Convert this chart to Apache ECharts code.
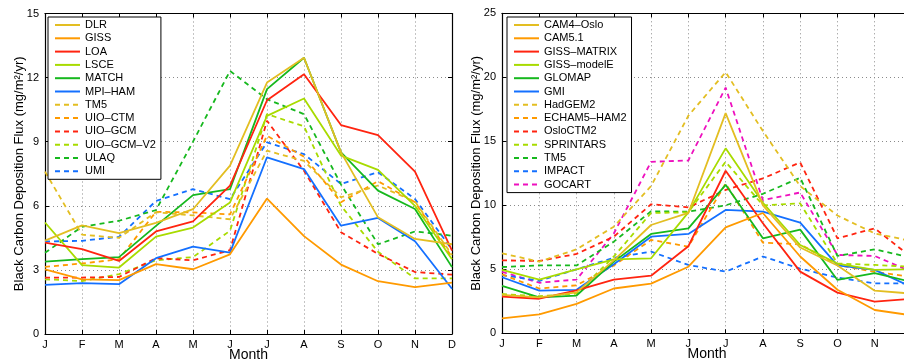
<!DOCTYPE html>
<html>
<head>
<meta charset="utf-8">
<script src="https://cdn.jsdelivr.net/npm/echarts@6/dist/echarts.min.js"></script>
<style>
html,body{margin:0;padding:0;background:#fff;}
#chart{width:904px;height:361px;}
</style>
</head>
<body>
<div id="chart"></div>
<script>
// ---------- data ----------
const categories = ['Jan','Feb','Mar','Apr','May','Jun','Jul','Aug','Sep','Oct','Nov','Dec'];
const tickLabels = ['J','F','M','A','M','J','J','A','S','O','N','D'];
const yTicksLeft = [0, 15, 3];   // min, max, interval
const yTicksRight = [0, 25, 5];

// Left panel (solid)
const DLR      = [4.37, 5.08, 4.72, 5.2, 5.84, 7.88, 11.77, 12.93, 8.5, 5.46, 4.45, 4.2];
const GISS     = [3.03, 2.56, 2.52, 3.27, 3.03, 3.73, 6.34, 4.58, 3.25, 2.47, 2.19, 2.4];
const LOA      = [4.28, 3.97, 3.42, 4.8, 5.27, 6.94, 10.94, 12.16, 9.78, 9.31, 7.6, 3.9];
const LSCE     = [5.22, 3.22, 3.11, 4.56, 4.98, 6.16, 10.21, 11.02, 8.35, 7.68, 6.0, 3.5];
const MATCH    = [3.39, 3.5, 3.6, 5.06, 6.5, 6.78, 11.46, 12.93, 8.5, 6.71, 5.85, 3.13];
const MPI_HAM  = [2.3, 2.38, 2.33, 3.55, 4.09, 3.81, 8.27, 7.72, 5.07, 5.43, 4.34, 2.12];
// Left panel (dashed)
const TM5_L    = [7.6, 4.65, 4.5, 5.7, 5.55, 5.37, 8.58, 8.1, 6.4, 6.95, 6.2, 3.7];
const UIO_CTM  = [3.14, 3.3, 3.5, 5.72, 5.69, 5.6, 9.28, 8.3, 6.17, 7.15, 6.17, 3.6];
const UIO_GCM  = [2.64, 2.64, 2.67, 3.55, 3.45, 3.92, 9.98, 7.64, 4.76, 3.75, 2.9, 2.78];
const UIO_GCM_V2 = [2.56, 2.48, 2.8, 3.45, 3.6, 4.83, 10.29, 9.72, 6.0, 3.85, 2.6, 2.6];
const ULAQ     = [3.8, 5.02, 5.3, 5.8, 9.0, 12.31, 10.99, 10.29, 7.0, 4.2, 4.8, 4.6];
const UMI      = [4.33, 4.36, 4.55, 6.23, 6.78, 6.31, 8.97, 8.42, 7.02, 7.57, 6.32, 3.95];

// Right panel (solid)
const CAM4_Oslo   = [3.0, 2.8, 3.2, 5.7, 8.46, 9.4, 17.2, 10.0, 6.7, 5.3, 3.33, 3.1];
const CAM5_1      = [1.17, 1.48, 2.3, 3.5, 3.88, 5.2, 8.28, 9.4, 6.0, 3.4, 1.82, 1.4];
const GISS_MATRIX = [2.86, 2.7, 3.35, 4.2, 4.5, 6.8, 12.7, 8.6, 4.82, 3.18, 2.47, 2.7];
const GISS_modelE = [4.95, 4.2, 5.0, 5.78, 5.86, 9.45, 14.45, 10.2, 6.9, 5.45, 4.95, 5.0];
const GLOMAP      = [3.7, 2.8, 2.95, 5.6, 7.76, 8.2, 11.6, 7.42, 8.1, 4.17, 4.7, 4.0];
const GMI         = [4.38, 3.33, 3.4, 5.4, 7.55, 7.76, 9.64, 9.5, 8.65, 5.3, 4.95, 3.6];
// Right panel (dashed)
const HadGEM2     = [6.25, 5.6, 6.56, 8.33, 11.5, 17.0, 20.4, 15.8, 11.5, 9.2, 7.8, 7.2];
const ECHAM5_HAM2 = [4.6, 3.5, 3.75, 5.3, 7.3, 6.77, 11.7, 7.08, 6.95, 5.34, 4.8, 4.4];
const OsloCTM2    = [5.7, 5.65, 6.2, 7.55, 10.08, 9.84, 11.2, 12.1, 13.35, 7.42, 8.2, 5.9];
const SPRINTARS   = [3.07, 2.9, 3.1, 6.0, 9.4, 9.45, 13.4, 10.0, 10.15, 5.45, 5.34, 5.2];
const TM5_R       = [5.18, 5.3, 5.3, 7.16, 9.53, 9.5, 10.0, 10.9, 12.15, 6.04, 6.56, 5.9];
const IMPACT      = [4.55, 4.1, 5.0, 5.9, 6.38, 5.34, 4.82, 6.0, 5.05, 4.35, 3.9, 3.9];
const GOCART      = [4.8, 3.95, 4.2, 7.8, 13.4, 13.5, 19.2, 10.4, 11.0, 6.12, 6.04, 4.8];

const leftNames  = ['DLR','GISS','LOA','LSCE','MATCH','MPI\u2013HAM','TM5','UIO\u2013CTM','UIO\u2013GCM','UIO\u2013GCM\u2013V2','ULAQ','UMI'];
const leftData   = [DLR, GISS, LOA, LSCE, MATCH, MPI_HAM, TM5_L, UIO_CTM, UIO_GCM, UIO_GCM_V2, ULAQ, UMI];
const rightNames = ['CAM4\u2013Oslo','CAM5.1','GISS\u2013MATRIX','GISS\u2013modelE','GLOMAP','GMI','HadGEM2','ECHAM5\u2013HAM2','OsloCTM2','SPRINTARS','TM5 ','IMPACT','GOCART'];
const rightData  = [CAM4_Oslo, CAM5_1, GISS_MATRIX, GISS_modelE, GLOMAP, GMI, HadGEM2, ECHAM5_HAM2, OsloCTM2, SPRINTARS, TM5_R, IMPACT, GOCART];

// ---------- styles ----------
const palette = ['#E3BE22','#FF9A00','#FF2410','#A8DB00','#16B81E','#1470FF','#EE10BE'];
const leftColors  = [0,1,2,3,4,5,0,1,2,3,4,5].map(i => palette[i]);
const leftDash    = [0,0,0,0,0,0,1,1,1,1,1,1];
const rightColors = [0,1,2,3,4,5,0,1,2,3,4,5,6].map(i => palette[i]);
const rightDash   = [0,0,0,0,0,0,1,1,1,1,1,1,1];

const FONT = 'Liberation Sans, Arial, Helvetica, sans-serif';
const yName = 'Black Carbon Deposition Flux (mg/m\u00B2/yr)';

function series(names, data, colors, dash, idx) {
  return names.map((n, i) => ({
    name: n, type: 'line', xAxisIndex: idx * 2, yAxisIndex: idx * 2,
    data: data[i], symbol: 'none', symbolSize: 0, showSymbol: false, silent: true,
    lineStyle: { color: colors[i], width: 1.8, type: dash[i] ? [5, 4] : 'solid' },
    itemStyle: { color: colors[i] },
    z: 3 + (names.length - i) * 0.01
  }));
}

const dotted = { show: true, lineStyle: { color: '#8a8a8a', width: 1, type: [1, 3] } };

function xAxes(grid) {
  return [{
    type: 'category', gridIndex: grid, data: categories, boundaryGap: false,
    axisLine: { show: true, onZero: false, lineStyle: { color: '#000', width: 1.2 } },
    axisTick: { show: true, inside: true, length: 4, lineStyle: { color: '#000' } },
    axisLabel: { color: '#000', fontSize: 11, fontFamily: FONT, margin: 5,
                 formatter: (v, i) => tickLabels[i] },
    splitLine: dotted,
    name: 'Month', nameLocation: 'middle', nameGap: 14, nameMoveOverlap: false,
    nameTextStyle: { color: '#000', fontSize: 14, fontFamily: FONT }
  }, {
    type: 'category', gridIndex: grid, data: categories, boundaryGap: false, position: 'top',
    axisLine: { show: true, onZero: false, lineStyle: { color: '#000', width: 1.2 } },
    axisTick: { show: true, inside: true, length: 4, lineStyle: { color: '#000' } },
    axisLabel: { show: false }, splitLine: { show: false }
  }];
}
function yAxes(grid, t) {
  return [{
    type: 'value', gridIndex: grid, min: t[0], max: t[1], interval: t[2],
    axisLine: { show: true, lineStyle: { color: '#000', width: 1.2 } },
    axisTick: { show: true, inside: true, length: 4, lineStyle: { color: '#000' } },
    axisLabel: { color: '#000', fontSize: 11, fontFamily: FONT, margin: 6 },
    splitLine: dotted,
    name: yName, nameLocation: 'middle', nameGap: 19, nameRotate: 90, nameMoveOverlap: false,
    nameTextStyle: { color: '#000', fontSize: 13, fontFamily: FONT }
  }, {
    type: 'value', gridIndex: grid, min: t[0], max: t[1], interval: t[2], position: 'right',
    axisLine: { show: true, lineStyle: { color: '#000', width: 1.2 } },
    axisTick: { show: true, inside: true, length: 4, lineStyle: { color: '#000' } },
    axisLabel: { show: false }, splitLine: { show: false }
  }];
}

function legend(names, left) {
  return {
    data: names, orient: 'vertical', left: left, top: 17, align: 'left',
    backgroundColor: '#fff', borderColor: '#000', borderWidth: 1,
    padding: [2, 5, 2, 6], itemWidth: 25, itemHeight: 12, itemGap: 1.3, itemTextGap: 5,
    selectedMode: false,
    itemStyle: { opacity: 0, borderWidth: 0 },
    formatter: n => n.trim(),
    textStyle: { color: '#000', fontSize: 11, fontFamily: FONT, lineHeight: 12 }
  };
}

const chart = echarts.init(document.getElementById('chart'), null, { renderer: 'canvas' });
chart.setOption({
  animation: false,
  backgroundColor: '#fff',
  grid: [
    { left: 45, width: 407, top: 13.5, height: 320.5, outerBoundsMode: 'none', containLabel: false },
    { left: 502, width: 410, top: 13.3, height: 320, outerBoundsMode: 'none', containLabel: false }
  ],
  xAxis: [...xAxes(0), ...xAxes(1)],
  yAxis: [...yAxes(0, yTicksLeft), ...yAxes(1, yTicksRight)],
  legend: [legend(leftNames, 48), legend(rightNames, 507)],
  series: [
    ...series(leftNames, leftData, leftColors, leftDash, 0),
    ...series(rightNames, rightData, rightColors, rightDash, 1)
  ]
});
</script>
</body>
</html>
